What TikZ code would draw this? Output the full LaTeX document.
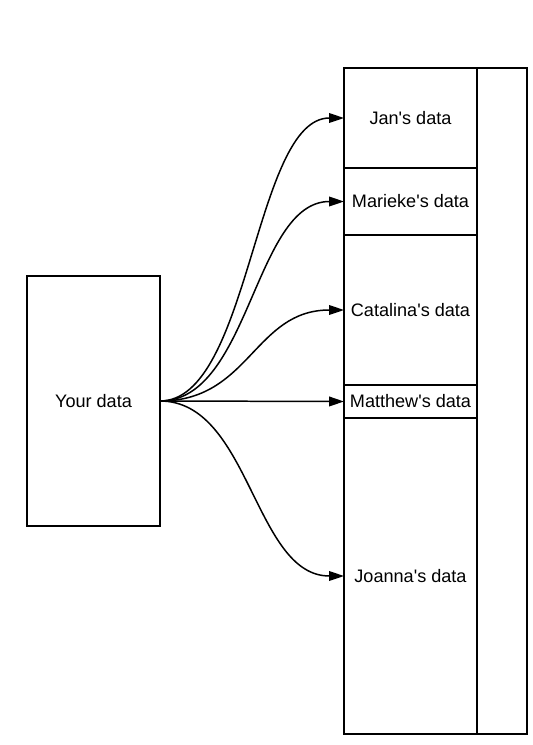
\documentclass[tikz,border=0pt]{standalone}
\usepackage{fontspec}
\setmainfont{Liberation Sans}
\usetikzlibrary{arrows.meta}

\tikzset{
  cell/.style={rectangle, draw, line width=0.9pt, inner sep=0pt, outer sep=0pt,
               minimum width=2.66cm, font=\fontsize{10.3pt}{12pt}\selectfont},
  feed/.style={line width=0.85pt, -{Triangle[length=8.5pt,width=5.5pt]}}
}

\begin{document}
\begin{tikzpicture}[x=0.02cm, y=-0.02cm]
                    \useasboundingbox (0,0) rectangle (532,745);
                    % Nodes
                    \node[cell, minimum height=5cm] (yours) at (93.5,401) {Your data};
                    \node[cell, minimum width=1cm, minimum height=13.32cm] (side) at (502,401) {};
                    \node[cell, minimum height=2cm] (jan) at (410.5,118) {Jan\textquotesingle s data};
                    \node[cell, minimum height=1.34cm] (marieke) at (410.5,201.5) {Marieke\textquotesingle s data};
                    \node[cell, minimum height=3cm] (catalina) at (410.5,310) {Catalina\textquotesingle s data};
                    \node[cell, minimum height=0.66cm] (matthew) at (410.5,401.5) {Matthew\textquotesingle s data};
                    \node[cell, minimum height=6.32cm] (joanna) at (410.5,576) {Joanna\textquotesingle s data};
                    % Edges
                    \draw[feed] (yours.east) .. controls +(90,0) and +(-90,0) .. (jan.west);
                    \draw[feed] (yours.east) .. controls +(90,0) and +(-90,0) .. (marieke.west);
                    \draw[feed] (yours.east) .. controls +(90,0) and +(-90,0) .. (catalina.west);
                    \draw[feed] (yours.east) -- (matthew.west);
                    \draw[feed] (yours.east) .. controls +(90,0) and +(-90,0) .. (joanna.west);
                \end{tikzpicture}
\end{document}
